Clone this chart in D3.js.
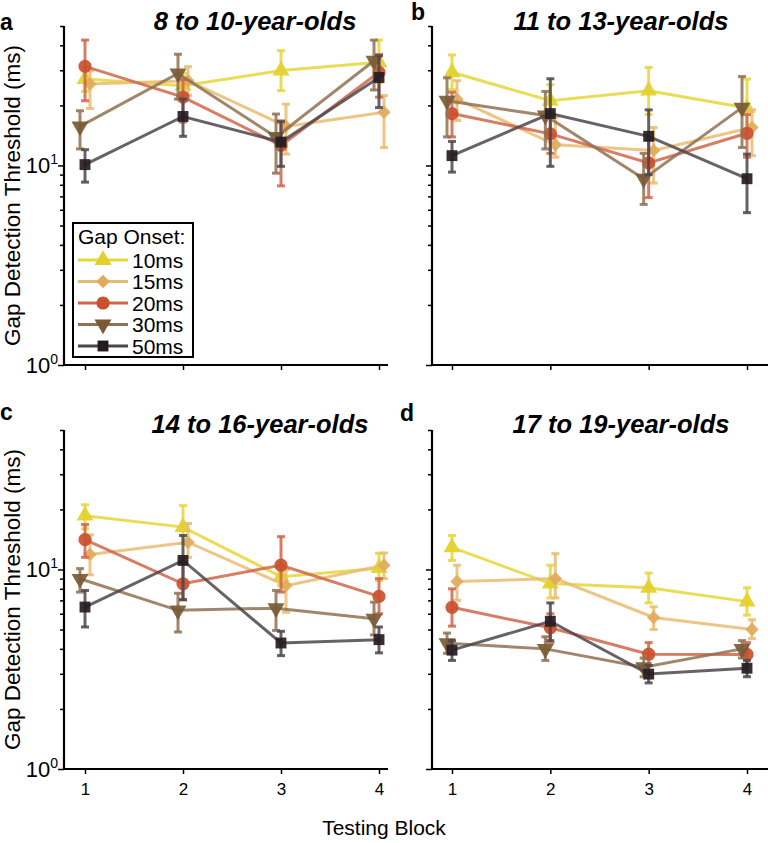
<!DOCTYPE html>
<html><head><meta charset="utf-8">
<script src="https://cdn.jsdelivr.net/npm/d3@7"></script>
<style>
html,body{margin:0;padding:0;background:#fff;}
svg{display:block;font-family:"Liberation Sans",Arial,Helvetica,sans-serif;}
</style></head>
<body>
<svg id="chart" width="768" height="843"></svg>
<script>
// ---------- data ----------
const blocks = [1, 2, 3, 4];
const onsets = ["10ms", "15ms", "20ms", "30ms", "50ms"];
const groups = ["8 to 10-year-olds", "11 to 13-year-olds", "14 to 16-year-olds", "17 to 19-year-olds"];
const panelLetters = ["a", "b", "c", "d"];
const yTickValues = [1, 10];

// means per group: rows = onsets (10,15,20,30,50 ms), cols = blocks 1..4
const meanA = [[27.1, 25.1, 29.9, 32.9], [25.6, 26.6, 15.7, 18.5], [31.4, 22.0, 12.6, 29.3], [15.7, 28.9, 13.9, 33.5], [10.1, 17.6, 13.1, 27.6]];
const hiA   = [[31.0, 29.0, 37.6, 42.5], [29.8, 31.3, 20.3, 22.4], [42.5, 27.0, 16.5, 36.0], [18.8, 36.1, 18.1, 42.5], [12.0, 21.5, 16.7, 35.5]];
const loA   = [[23.5, 22.0, 23.7, 26.0], [19.3, 22.5, 11.4, 12.3], [21.1, 16.5, 7.9, 22.0], [12.1, 21.5, 9.15, 23.9], [8.25, 14.0, 9.9, 19.5]];

const meanB = [[29.3, 21.1, 23.7, 19.4], [21.5, 12.7, 11.9, 15.5], [18.2, 14.4, 10.3, 14.5], [21.1, 17.8, 8.58, 19.5], [11.2, 18.2, 14.0, 8.58]];
const hiB   = [[35.8, 25.4, 31.0, 27.1], [26.6, 17.5, 15.5, 19.0], [23.3, 18.0, 13.5, 18.0], [27.5, 23.5, 11.5, 27.9], [13.2, 27.2, 19.0, 11.4]];
const loB   = [[24.0, 17.5, 18.0, 14.0], [16.8, 11.0, 8.16, 11.2], [13.9, 11.5, 6.9, 11.0], [13.9, 12.1, 6.38, 12.3], [9.26, 9.9, 9.0, 5.8]];

const meanC = [[18.6, 16.3, 9.2, 10.15], [11.9, 13.7, 8.3, 10.5], [14.1, 8.48, 10.5, 7.33], [8.98, 6.24, 6.4, 5.67], [6.48, 11.1, 4.28, 4.45]];
const hiC   = [[21.1, 20.9, 10.2, 12.06], [14.9, 17.0, 10.0, 12.1], [16.8, 10.7, 14.6, 9.0], [10.1, 7.6, 7.85, 6.86], [7.85, 14.8, 4.9, 5.15]];
const loC   = [[16.0, 13.5, 8.3, 8.8], [9.4, 11.5, 6.1, 9.0], [11.5, 7.05, 7.7, 6.0], [7.7, 4.86, 4.95, 4.7], [5.15, 7.05, 3.7, 3.82]];

const meanD = [[12.9, 8.5, 8.1, 6.9], [8.7, 9.0, 5.75, 5.0], [6.46, 5.1, 3.76, 3.75], [4.27, 4.0, 3.24, 4.0], [3.94, 5.5, 2.99, 3.2]];
const hiD   = [[14.8, 10.5, 9.6, 8.1], [10.5, 12.0, 6.5, 5.6], [8.0, 6.0, 4.3, 4.3], [4.8, 4.6, 3.6, 4.4], [4.4, 6.8, 3.3, 3.5]];
const loD   = [[11.1, 7.2, 6.8, 5.9], [7.0, 7.2, 5.0, 4.5], [5.2, 4.3, 3.3, 3.3], [3.8, 3.5, 2.9, 3.6], [3.5, 4.4, 2.7, 2.9]];

const means = [meanA, meanB, meanC, meanD];
const his = [hiA, hiB, hiC, hiD];
const los = [loA, loB, loC, loD];

// ---------- styles ----------
const lineColors   = ["#e6d63a", "#e9bb72", "#d0654a", "#8f7252", "#4d474c"];
const markerColors = ["#e2d02c", "#e0ab5c", "#c9512f", "#7a5a36", "#251c22"];
const dodge = [0, 5, 0, -5, 0];

const svg = d3.select("#chart");

const panels = [
  {left: 64, right: 388, top: 26, bottom: 365, x1: 85, x4: 379, labelY: true, labelX: false},
  {left: 432, right: 768, top: 26, bottom: 365, x1: 452, x4: 747, labelY: false, labelX: false},
  {left: 64, right: 388, top: 430, bottom: 769, x1: 85, x4: 379, labelY: true, labelX: true},
  {left: 432, right: 768, top: 430, bottom: 769, x1: 452, x4: 747, labelY: false, labelX: true}
];
const titlePos = [[255, 30], [621, 30], [260, 433], [621, 433]];
const letterPos = [[0, 30], [411, 20], [0, 420], [400, 421]];

function markerPath(i, size) {
  const s = [
    d3.symbol().type(d3.symbolTriangle).size(size * 1.0)(),
    d3.symbol().type(d3.symbolSquare).size(size * 0.72)(),
    d3.symbol().type(d3.symbolCircle).size(size * 1.1)(),
    d3.symbol().type(d3.symbolTriangle).size(size * 1.0)(),
    d3.symbol().type(d3.symbolSquare).size(size * 0.95)()
  ];
  return s[i];
}
function markerRot(i) { return i === 1 ? 45 : (i === 3 ? 180 : 0); }

panels.forEach((p, gi) => {
  const g = svg.append("g");
  const x = d3.scaleLinear().domain([1, 4]).range([p.x1, p.x4]);
  const y = d3.scaleLog().domain([1, 50]).range([p.bottom, p.top]);

  // y axis
  const minor = [];
  for (let d = 1; d <= 50; d++) {
    if (d < 10 || d % 10 === 0) minor.push(d);
  }
  const yAxis = d3.axisLeft(y).tickValues(minor.filter(v => yTickValues.indexOf(v) < 0)).tickSize(4).tickFormat("");
  const ya = g.append("g").attr("transform", `translate(${p.left},0)`).call(yAxis);
  ya.select(".domain").remove();
  ya.selectAll("line").attr("stroke", "#000").attr("stroke-width", 1.5);
  const yMaj = d3.axisLeft(y).tickValues(yTickValues).tickSize(6).tickFormat("");
  const ym = g.append("g").attr("transform", `translate(${p.left},0)`).call(yMaj);
  ym.select(".domain").remove();
  ym.selectAll("line").attr("stroke", "#000").attr("stroke-width", 1.5);
  g.append("line").attr("x1", p.left).attr("x2", p.left).attr("y1", p.top).attr("y2", p.bottom + 1)
    .attr("stroke", "#000").attr("stroke-width", 2.2);

  if (p.labelY) {
    yTickValues.forEach(v => {
      const t = g.append("text").attr("x", p.left - 6).attr("y", y(v) + 8)
        .attr("text-anchor", "end").attr("font-size", 22).attr("fill", "#000");
      t.append("tspan").text("10");
      t.append("tspan").attr("font-size", 14).attr("dy", -9).text(String(Math.round(Math.log10(v))));
    });
    g.append("text")
      .attr("transform", `translate(${20},${(p.top + p.bottom) / 2}) rotate(-90)`)
      .attr("text-anchor", "middle").attr("font-size", 22.5).attr("fill", "#000")
      .text("Gap Detection Threshold (ms)");
  }

  // x axis
  const xAxis = d3.axisBottom(x).tickValues(blocks).tickSize(5).tickFormat(p.labelX ? d3.format("d") : "");
  const xa = g.append("g").attr("transform", `translate(0,${p.bottom})`).call(xAxis);
  xa.select(".domain").remove();
  xa.selectAll("line").attr("stroke", "#000").attr("stroke-width", 1.5);
  xa.selectAll("text").attr("font-size", 17).attr("fill", "#000").attr("dy", "1.05em")
    .attr("font-family", "Liberation Sans, Arial, sans-serif");
  g.append("line").attr("x1", p.left - 1).attr("x2", p.right).attr("y1", p.bottom).attr("y2", p.bottom)
    .attr("stroke", "#000").attr("stroke-width", 2.2);

  // title and letter
  g.append("text").attr("x", titlePos[gi][0]).attr("y", titlePos[gi][1]).attr("text-anchor", "middle")
    .attr("font-size", 25.5).attr("font-weight", "bold").attr("font-style", "italic").text(groups[gi]);
  g.append("text").attr("x", letterPos[gi][0]).attr("y", letterPos[gi][1])
    .attr("font-size", 23).attr("font-weight", "bold").text(panelLetters[gi]);

  // series
  onsets.forEach((o, si) => {
    const m = means[gi][si], hi = his[gi][si], lo = los[gi][si];
    const sg = g.append("g");
    const line = d3.line().x((d, i) => x(blocks[i]) + dodge[si]).y(d => y(d));
    sg.append("path").attr("d", line(m)).attr("fill", "none")
      .attr("stroke", lineColors[si]).attr("stroke-width", 3).attr("stroke-opacity", 0.85);
    blocks.forEach((b, i) => {
      const cx = x(b) + dodge[si];
      sg.append("line").attr("x1", cx).attr("x2", cx).attr("y1", y(lo[i])).attr("y2", y(hi[i]))
        .attr("stroke", lineColors[si]).attr("stroke-width", 3).attr("stroke-opacity", 0.85);
      [lo[i], hi[i]].forEach(v => {
        sg.append("line").attr("x1", cx - 4).attr("x2", cx + 4).attr("y1", y(v)).attr("y2", y(v))
          .attr("stroke", lineColors[si]).attr("stroke-width", 3).attr("stroke-opacity", 0.85);
      });
    });
    blocks.forEach((b, i) => {
      sg.append("path").attr("d", markerPath(si, 125))
        .attr("transform", `translate(${x(b) + dodge[si]},${y(m[i])}) rotate(${markerRot(si)})`)
        .attr("fill", markerColors[si]).attr("fill-opacity", 0.92);
    });
  });
});

// legend
const lg = svg.append("g");
lg.append("rect").attr("x", 73).attr("y", 223).attr("width", 120).attr("height", 134)
  .attr("fill", "#fff").attr("stroke", "#000").attr("stroke-width", 2);
lg.append("text").attr("x", 78).attr("y", 244).attr("font-size", 21).text("Gap Onset:");
const legendYs = [260, 281.5, 303, 324.5, 346];
onsets.forEach((o, si) => {
  const ly = legendYs[si];
  lg.append("line").attr("x1", 78).attr("x2", 128).attr("y1", ly).attr("y2", ly)
    .attr("stroke", lineColors[si]).attr("stroke-width", 3);
  lg.append("path").attr("d", markerPath(si, 125))
    .attr("transform", `translate(103,${ly}) rotate(${markerRot(si)})`).attr("fill", markerColors[si]);
  lg.append("text").attr("x", 132).attr("y", ly + 7.5).attr("font-size", 21).text(o);
});

// x axis label
svg.append("text").attr("x", 384).attr("y", 835).attr("text-anchor", "middle")
  .attr("font-size", 21).text("Testing Block");
</script>
</body></html>
